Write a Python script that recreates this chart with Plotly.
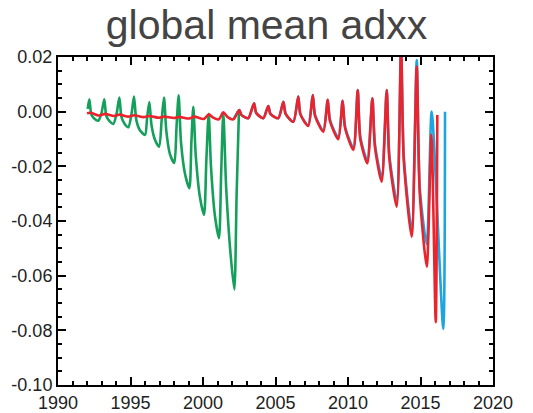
import plotly.graph_objects as go

# ---- data (decimal year, value) ----
green_x = [1992.05, 1992.16, 1992.30, 1992.50, 1992.78, 1993.00, 1993.19, 1993.33, 1993.55, 1993.81,
           1994.05, 1994.23, 1994.38, 1994.60, 1994.85, 1995.08, 1995.24, 1995.40, 1995.65, 1996.00,
           1996.15, 1996.30, 1996.45, 1996.70, 1996.97, 1997.15, 1997.31, 1997.47, 1997.72, 1998.02,
           1998.17, 1998.32, 1998.48, 1998.75, 1999.06, 1999.20, 1999.33, 1999.50, 1999.78, 2000.07,
           2000.23, 2000.39, 2000.55, 2000.82, 2001.10, 2001.25, 2001.40, 2001.60, 2001.90, 2002.16,
           2002.32, 2002.48]
green_y = [0.0010, 0.0045, -0.0010, -0.0025, -0.0033, -0.0005, 0.0045, -0.0015, -0.0035, -0.0045,
           -0.0005, 0.0052, -0.0020, -0.0045, -0.0057, -0.0005, 0.0055, -0.0030, -0.0068, -0.0085,
           -0.0020, 0.0035, -0.0050, -0.0105, -0.0128, -0.0030, 0.0052, -0.0070, -0.0155, -0.0188,
           -0.0060, 0.0060, -0.0110, -0.0225, -0.0280, -0.0110, 0.0018, -0.0160, -0.0310, -0.0378,
           -0.0180, -0.0008, -0.0200, -0.0380, -0.0463, -0.0230, -0.0005, -0.0280, -0.0520, -0.0650,
           -0.0300, 0.0003]

red_x = [1992.00, 1992.25, 1992.80, 1993.25, 1993.85, 1994.25, 1994.85, 1995.25, 1995.90, 1996.30,
         1996.95, 1997.30, 1998.00, 1998.35, 1999.05, 1999.40, 2000.05, 2000.40, 2000.70, 2001.10,
         2001.40, 2001.70, 2002.10, 2002.50, 2002.65, 2003.12, 2003.52, 2003.67, 2004.16, 2004.50,
         2004.65, 2005.19, 2005.54, 2005.70, 2006.23, 2006.57, 2006.72, 2007.26, 2007.57, 2007.73,
         2008.30, 2008.60, 2008.76, 2009.33, 2009.63, 2009.80, 2010.37, 2010.67, 2010.85, 2011.33,
         2011.68, 2011.86, 2012.32, 2012.67, 2012.85, 2013.36, 2013.66, 2013.85, 2014.39, 2014.74,
         2014.95, 2015.43, 2015.75, 2016.05, 2016.16]
red_y = [-0.0006, -0.0004, -0.0014, -0.0008, -0.0016, -0.0011, -0.0018, -0.0013, -0.0020, -0.0016,
         -0.0022, -0.0018, -0.0023, -0.0019, -0.0025, -0.0018, -0.0027, -0.0010, -0.0022, -0.0028,
         -0.0002, -0.0020, -0.0028, 0.0006, -0.0012, -0.0024, 0.0031, -0.0005, -0.0024, 0.0021,
         -0.0008, -0.0024, 0.0036, -0.0008, -0.0037, 0.0055, -0.0010, -0.0052, 0.0061, -0.0015,
         -0.0073, 0.0043, -0.0035, -0.0101, 0.0040, -0.0060, -0.0140, 0.0079, -0.0100, -0.0189,
         0.0049, -0.0130, -0.0256, 0.0079, -0.0170, -0.0348, 0.0240, -0.0180, -0.0457, 0.0165,
         -0.0300, -0.0567, -0.0085, -0.0770, -0.0012]

blue_x = [2002.10, 2002.50, 2002.65, 2003.12, 2003.52, 2003.67, 2004.16, 2004.50, 2004.65, 2005.19,
          2005.54, 2005.70, 2006.23, 2006.57, 2006.72, 2007.26, 2007.57, 2007.73, 2008.30, 2008.60,
          2008.76, 2009.33, 2009.63, 2009.80, 2010.37, 2010.67, 2010.85, 2011.33, 2011.68, 2011.86,
          2012.32, 2012.67, 2012.85, 2013.36, 2013.66, 2013.85, 2014.39, 2014.74, 2014.95, 2015.43,
          2015.77, 2016.57, 2016.69]
blue_y = [-0.0028, 0.0006, -0.0012, -0.0024, 0.0031, -0.0005, -0.0024, 0.0021, -0.0008, -0.0024,
          0.0036, -0.0008, -0.0037, 0.0055, -0.0010, -0.0050, 0.0061, -0.0013, -0.0068, 0.0043,
          -0.0031, -0.0094, 0.0040, -0.0055, -0.0132, 0.0079, -0.0093, -0.0178, 0.0049, -0.0120,
          -0.0240, 0.0079, -0.0158, -0.0325, 0.0240, -0.0165, -0.0430, 0.0189, -0.0280, -0.0485,
          0.0000, -0.0795, 0.0000]

x_ticks = [1990, 1995, 2000, 2005, 2010, 2015, 2020]
y_ticks = [0.02, 0.00, -0.02, -0.04, -0.06, -0.08, -0.10]

GREEN = "rgb(20,160,90)"
BLUE = "rgb(30,165,225)"
RED = "rgb(235,35,45)"

fig = go.Figure()
for xs, ys, col in [(green_x, green_y, GREEN), (blue_x, blue_y, BLUE), (red_x, red_y, RED)]:
    fig.add_trace(go.Scatter(x=xs, y=ys, mode="lines",
                             line=dict(color=col, width=2.6, shape="spline", smoothing=0.7),
                             showlegend=False))

axis_font = dict(family="Liberation Sans, Arial, sans-serif", size=18, color="#222222")

fig.update_layout(
    width=533, height=413,
    margin=dict(l=58, r=40, t=57, b=28),
    paper_bgcolor="white", plot_bgcolor="white",
    title=dict(text="global mean adxx", x=0.5, xanchor="center", y=0.94, yanchor="middle",
               font=dict(family="Liberation Sans, Arial, sans-serif", size=41, color="#444444")),
    xaxis=dict(range=[1990, 2020], tickvals=x_ticks, ticktext=[str(v) for v in x_ticks],
               showgrid=False, zeroline=False, showline=True, linecolor="black", linewidth=2,
               mirror="allticks", ticks="inside", ticklen=8, tickwidth=2, tickcolor="black",
               tickfont=axis_font, automargin=False,
               minor=dict(dtick=1, tick0=1990, ticks="inside", ticklen=4, tickwidth=2,
                          tickcolor="black", showgrid=False)),
    yaxis=dict(range=[-0.10, 0.02], tickvals=y_ticks, ticktext=[f"{v:.2f}" for v in y_ticks],
               showgrid=False, zeroline=False, showline=True, linecolor="black", linewidth=2,
               mirror="allticks", ticks="inside", ticklen=8, tickwidth=2, tickcolor="black",
               tickfont=axis_font, automargin=False,
               minor=dict(dtick=0.005, tick0=0, ticks="inside", ticklen=4, tickwidth=2,
                          tickcolor="black", showgrid=False)),
)

fig.write_html("out.html")
